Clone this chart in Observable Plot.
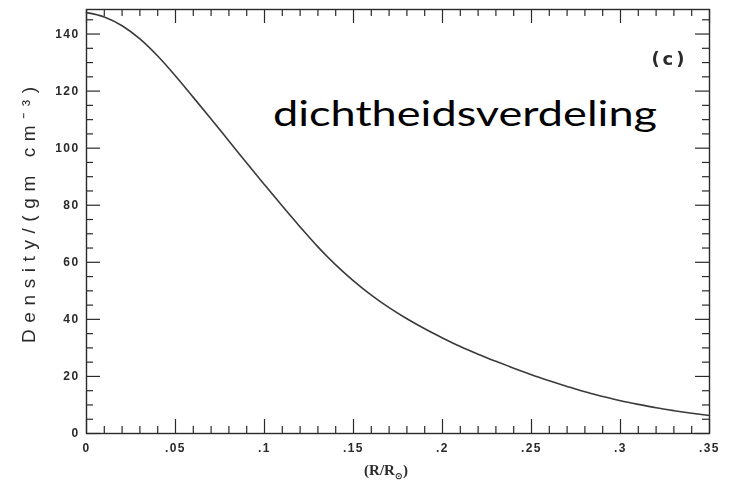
<!DOCTYPE html>
<html>
<head>
<meta charset="utf-8">
<script src="https://cdn.jsdelivr.net/npm/d3@7"></script>
<script src="https://cdn.jsdelivr.net/npm/@observablehq/plot@0.6"></script>
<style>
  html, body { margin: 0; padding: 0; background: #fff; }
  #wrap { position: relative; width: 729px; height: 493px; }
  #wrap > svg.plot { filter: blur(0.45px); }
  .ticklab text { letter-spacing: 1.4px; }
  .tag text { letter-spacing: 3px; }
  #title { position: absolute; left: 0; top: 0; pointer-events: none; }
</style>
</head>
<body>
<div id="wrap"></div>
<script>
// Solar density profile, panel (c)
const radius = [0, 0.01, 0.02, 0.03, 0.04, 0.05, 0.06, 0.07, 0.08, 0.09, 0.10,
  0.11, 0.12, 0.13, 0.14, 0.15, 0.16, 0.17, 0.18, 0.19, 0.20, 0.21, 0.22, 0.23,
  0.24, 0.25, 0.26, 0.27, 0.28, 0.29, 0.30, 0.31, 0.32, 0.33, 0.34, 0.35];
const density = [147.5, 146.0, 142.9, 138.3, 132.3, 125.3, 117.8, 110.2, 102.5, 94.8, 87.2,
  79.7, 72.4, 65.4, 59.1, 53.5, 48.5, 44.1, 40.2, 36.7, 33.5, 30.5, 27.8, 25.3,
  22.9, 20.6, 18.5, 16.5, 14.6, 13.0, 11.5, 10.2, 9.0, 8.0, 7.1, 6.3];

const xMajor = [0, 0.05, 0.10, 0.15, 0.20, 0.25, 0.30, 0.35];
const xTickLabels = ["0", ".05", ".1", ".15", ".2", ".25", ".3", ".35"];
const yMajor = [0, 20, 40, 60, 80, 100, 120, 140];
const yTickLabels = ["0", "20", "40", "60", "80", "100", "120", "140"];
const xMinor = d3.range(0, 36).map(i => i / 100).filter(v => Math.round(v * 100) % 5 !== 0);
const yMinor = d3.range(0, 150, 5).filter(v => v % 20 !== 0);

const yLabel = "Density/(gm cm\u207B\u00B3)";
const panelTag = "(c)";
const titleText = "dichtheidsverdeling";

const rows = radius.map((r, i) => ({r, rho: density[i]}));

const W = 729, H = 493, mL = 86, mR = 20, mT = 9, mB = 60;
const fw = W - mL - mR, fh = H - mT - mB;
const majLen = 14, minLen = 7;
const ink = "#2a2a2a";

const chart = Plot.plot({
  width: W, height: H,
  marginLeft: mL, marginRight: mR, marginTop: mT, marginBottom: mB,
  x: {domain: [0, 0.35], axis: null},
  y: {domain: [0, 148.6], axis: null},
  style: {fontFamily: "'Liberation Sans', Arial, sans-serif", background: "#fff", color: ink},
  marks: [
    // inward ticks on all four sides
    Plot.tickX(xMinor, {x: d => d, insetTop: fh - minLen, stroke: ink, strokeWidth: 1.2}),
    Plot.tickX(xMajor, {x: d => d, insetTop: fh - majLen, stroke: ink, strokeWidth: 1.2}),
    Plot.tickX(xMinor, {x: d => d, insetBottom: fh - minLen, stroke: ink, strokeWidth: 1.2}),
    Plot.tickX(xMajor, {x: d => d, insetBottom: fh - majLen, stroke: ink, strokeWidth: 1.2}),
    Plot.tickY(yMinor, {y: d => d, insetRight: fw - minLen, stroke: ink, strokeWidth: 1.2}),
    Plot.tickY(yMajor, {y: d => d, insetRight: fw - majLen, stroke: ink, strokeWidth: 1.2}),
    Plot.tickY(yMinor, {y: d => d, insetLeft: fw - minLen, stroke: ink, strokeWidth: 1.2}),
    Plot.tickY(yMajor, {y: d => d, insetLeft: fw - majLen, stroke: ink, strokeWidth: 1.2}),
    Plot.frame({stroke: ink, strokeWidth: 1.4}),
    // tick labels
    Plot.text(xMajor, {x: d => d, text: (d, i) => xTickLabels[i], frameAnchor: "bottom",
      lineAnchor: "middle", dy: 15, fontSize: 12, fontWeight: "bold", fill: ink, className: "ticklab"}),
    Plot.text(yMajor, {y: d => d, text: (d, i) => yTickLabels[i], frameAnchor: "left",
      textAnchor: "end", dx: -7, fontSize: 12, fontWeight: "bold", fill: ink, className: "ticklab"}),
    // panel tag
    Plot.text([panelTag], {frameAnchor: "top-right", dx: -22, dy: 50, lineAnchor: "middle",
      fontSize: 18, fontWeight: "bold", fontFamily: "'DejaVu Sans', sans-serif",
      fill: ink, className: "tag"}),
    // density curve
    Plot.line(rows, {x: "r", y: "rho", stroke: "#3a3a3a", strokeWidth: 1.6, curve: "monotone-x"})
  ]
});
chart.classList.add("plot");

const svg = d3.select(chart);

// y-axis title, tracked out
svg.append("text")
  .attr("transform", "translate(35,215) rotate(-90)")
  .attr("text-anchor", "middle")
  .attr("font-family", "'Liberation Sans', Arial, sans-serif")
  .style("font-size", "19px").attr("fill", ink)
  .attr("textLength", 256).attr("lengthAdjust", "spacing")
  .text(yLabel);

// x-axis title with a subscript solar symbol
const xl = svg.append("text")
  .attr("x", 386).attr("y", 475)
  .attr("text-anchor", "middle")
  .attr("font-family", "'Liberation Serif', 'Times New Roman', serif")
  .attr("font-size", 15).attr("font-weight", "bold").attr("fill", ink);
xl.append("tspan").text("(R/R");
xl.append("tspan").attr("font-size", 9).attr("dy", 4).text("\u2299");
xl.append("tspan").attr("dy", -4).text(")");

document.getElementById("wrap").appendChild(chart);

// overlaid slide caption
const ov = d3.select("#wrap").append("svg").attr("id", "title")
  .attr("width", W).attr("height", H);
ov.append("text")
  .attr("x", 273).attr("y", 126)
  .attr("font-family", "Lato, 'Open Sans', sans-serif")
  .attr("font-size", 35)
  .attr("textLength", 384).attr("lengthAdjust", "spacingAndGlyphs")
  .attr("fill", "#000")
  .text(titleText);
</script>
</body>
</html>
